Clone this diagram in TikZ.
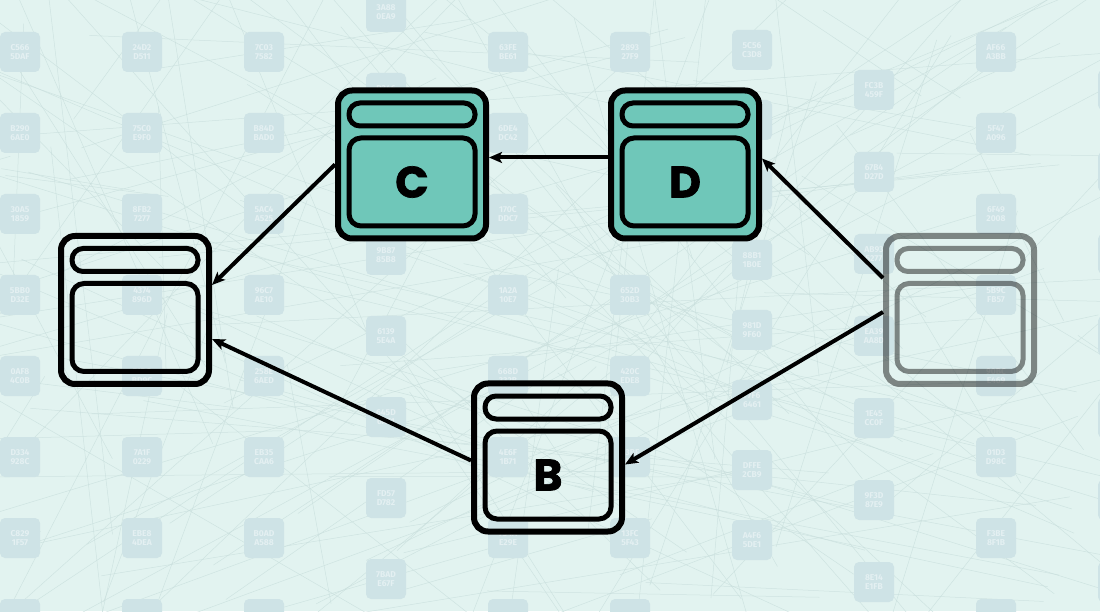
\documentclass[tikz,border=0pt]{standalone}
\usepackage{fontspec}
\setsansfont{Poppins}[BoldFeatures={FakeBold=1.6}]
\newfontfamily\codefont{Fira Sans}
\usetikzlibrary{arrows.meta}

\definecolor{bgmint}{HTML}{E2F3F0}
\definecolor{netgray}{HTML}{C8DEDC}
\definecolor{chipblue}{HTML}{CEE3E6}
\definecolor{chiptext}{HTML}{E4F0F2}
\definecolor{panelteal}{HTML}{6FC7B9}

% random hex words for the background chips
\pgfmathdeclarerandomlist{hexdigit}{{0}{1}{2}{3}{4}{5}{6}{7}{8}{9}{A}{B}{C}{D}{E}{F}}
\newcommand{\hexword}[1]{%
  \pgfmathrandomitem{\hda}{hexdigit}\pgfmathrandomitem{\hdb}{hexdigit}%
  \pgfmathrandomitem{\hdc}{hexdigit}\pgfmathrandomitem{\hdd}{hexdigit}%
  \edef#1{\hda\hdb\hdc\hdd}}

% one window box: name, position, extra style, label
\newcommand{\winbox}[4]{%
  \node[win,#3] (#1) at #2 {};
  \node[bar,#3] (#1-bar) at ([yshift=50]#1.center) {};
  \node[pane,#3] (#1-pane) at ([yshift=-17.5]#1.center) {#4};
}

\begin{document}
\begin{tikzpicture}[x=1pt,y=1pt,
    win/.style={draw,line width=6pt,rounded corners=14pt,minimum width=148pt,minimum height=148pt,inner sep=0pt},
    bar/.style={draw,line width=5pt,rounded corners=11pt,minimum width=126pt,minimum height=23pt,inner sep=0pt},
    pane/.style={draw,line width=5pt,rounded corners=12pt,minimum width=126pt,minimum height=88pt,inner sep=0pt,
      font=\sffamily\bfseries\fontsize{44}{44}\selectfont},
    active/.style={fill=panelteal},
    faded/.style={draw opacity=.45},
    chip/.style={fill=chipblue,rounded corners=5pt,minimum size=40pt,inner sep=0pt,text=chiptext,
      font=\codefont\bfseries\fontsize{8.5}{9.5}\selectfont,align=center},
    netline/.style={netgray,line width=.5pt,opacity=.75},
    flow/.style={->,line width=4pt},
    >={Stealth[length=13pt,width=11pt,inset=3pt]}]

\useasboundingbox (0,0) rectangle (1100,611);

% background: mint, faint network, hex chips
\begin{scope}
\clip (0,0) rectangle (1100,611);
\fill[bgmint] (0,0) rectangle (1100,611);
\pgfmathsetseed{42}
\foreach \i in {1,...,170}{
  \pgfmathsetmacro\xa{rnd*1300-100}
  \pgfmathsetmacro\ya{rnd*811-100}
  \pgfmathsetmacro\xb{rnd*1300-100}
  \pgfmathsetmacro\yb{rnd*811-100}
  \draw[netline] (\xa,\ya) -- (\xb,\yb);
}
\foreach \cx/\cy/\dy in {20/52/81,142/52/81,264/52/81,386/12/81,508/52/81,
                         630/52/81,752/50/70,874/90/82,996/52/81,1118/90/82}{
  \foreach \r in {0,...,7}{
    \hexword\codeup \hexword\codedown
    \pgfmathsetmacro\chipy{611-\cy-\r*\dy}
    \pgfmathparse{(\chipy>10 && \chipy<601 && \cx<1090) ? 1 : 0}
    \ifnum\pgfmathresult=1
      \node[chip] (chip-\cx-\r) at (\cx,\chipy) {\codeup\\\codedown};
    \else
      \node[chip] (chip-\cx-\r) at (\cx,\chipy) {};
    \fi
  }
}
\end{scope}

% the five windows
\winbox{a}{(135,301)}{}{}
\winbox{c}{(412,446.5)}{active}{C}
\winbox{d}{(685,446.5)}{active}{D}
\winbox{e}{(960,301)}{faded}{}
\winbox{b}{(548,153.5)}{}{B}

% flows
\draw[flow] (c.west) -- ([yshift=25]a.east);
\draw[flow] ([yshift=-3]b.west) -- ([yshift=-29]a.east);
\draw[flow] ([yshift=7]d.west) -- ([yshift=7]c.east);
\draw[flow] ([yshift=32]e.west) -- ([yshift=6]d.east);
\draw[flow] ([yshift=-2]e.west) -- ([yshift=-7]b.east);

\end{tikzpicture}
\end{document}
